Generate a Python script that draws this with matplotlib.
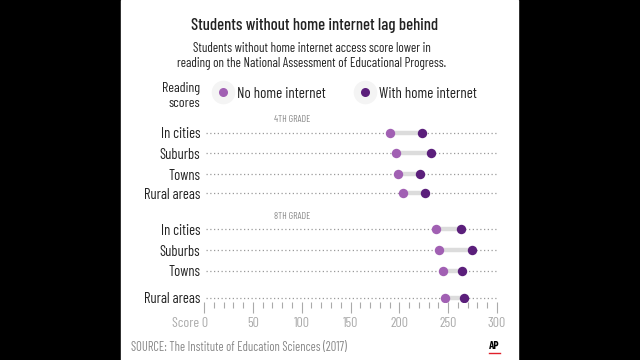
import matplotlib
matplotlib.use('Agg')
import matplotlib.pyplot as plt
from matplotlib import font_manager
from matplotlib.patches import Rectangle
from matplotlib.lines import Line2D
from matplotlib.transforms import ScaledTranslation

# pick a narrow face (AP graphics use a condensed sans)
names = set(f.name for f in font_manager.fontManager.ttflist)
wanted = ['Barlow Condensed', 'Roboto Condensed', 'Archivo Narrow',
          'Asap Condensed', 'Liberation Sans Narrow']
family = [n for n in wanted if n in names][:1] + ['Liberation Sans', 'DejaVu Sans']
plt.rcParams['font.family'] = family

# data
areas = ['In cities', 'Suburbs', 'Towns', 'Rural areas']
grade4_no = [190, 197, 199, 204]
grade4_with = [223, 232, 221, 226]
grade8_no = [238, 241, 245, 247]
grade8_with = [263, 274, 264, 266]

# layout (pixel rows)
rows4 = [132.7, 153.3, 174, 193.3]
rows8 = [229.3, 250, 271, 297.7]

c_no = '#a160b3'
c_with = '#5b1f7b'
W, H = 640, 360

def fx(x):
    return x / W

def fy(y):
    return 1 - y / H

fig = plt.figure(figsize=(6.4, 3.6), dpi=100, facecolor='black')
fig.patches.append(Rectangle((fx(121), 0), fx(518) - fx(121), 1,
                             transform=fig.transFigure, color='white', zorder=-5))

fig.text(fx(315), fy(24), 'Students without home internet lag behind',
         ha='center', va='center_baseline', fontsize=12, fontweight=500, color='#222222')
fig.text(fx(312), fy(47), 'Students without home internet access score lower in',
         ha='center', va='center_baseline', fontsize=9.4, color='#222222')
fig.text(fx(312), fy(62), 'reading on the National Assessment of Educational Progress.',
         ha='center', va='center_baseline', fontsize=9.4, color='#222222')

# legend
fig.text(fx(200), fy(87), 'Reading', ha='right', va='center_baseline', fontsize=10, color='#222222')
fig.text(fx(200), fy(102), 'scores', ha='right', va='center_baseline', fontsize=10, color='#222222')
for xm, col, lab in [(223, c_no, 'No home internet'), (365, c_with, 'With home internet')]:
    fig.add_artist(Line2D([fx(xm)], [fy(92)], marker='o', markersize=17,
                          color='#f4f4f4', markeredgewidth=0, transform=fig.transFigure))
    fig.add_artist(Line2D([fx(xm)], [fy(92)], marker='o', markersize=6.5,
                          color=col, markeredgewidth=0, transform=fig.transFigure))
    fig.text(fx(xm + 14), fy(92), lab, ha='left', va='center_baseline', fontsize=10.8, color='#222222')

ax = fig.add_axes([fx(204), fy(302), fx(497) - fx(204), fy(110) - fy(302)])
ax.set_zorder(2)
ax.patch.set_visible(False)
ax.set_xlim(0, 300)
ax.set_ylim(302, 110)
for s in ax.spines.values():
    s.set_visible(False)

for rows, no, wi in [(rows4, grade4_no, grade4_with), (rows8, grade8_no, grade8_with)]:
    for y, a, b, lab in zip(rows, no, wi, areas):
        ax.plot([2, 300], [y, y], color='#9a9a9a', lw=0.9, ls=(0, (1, 2)), zorder=1)
        ax.plot([a, b], [y, y], color='#dcdcdc', lw=3.2, solid_capstyle='butt', zorder=2)
        ax.scatter([a], [y], s=46, color=c_no, zorder=3, linewidths=0)
        ax.scatter([b], [y], s=46, color=c_with, zorder=3, linewidths=0)
        ax.text(-4, y, lab, ha='right', va='center_baseline', fontsize=10.5, color='#222222')

ax.text(90, 118, '4TH GRADE', ha='center', va='center_baseline', fontsize=7, color='#888888')
ax.text(90, 215.7, '8TH GRADE', ha='center', va='center_baseline', fontsize=7, color='#888888')

ax.set_yticks([])
ax.set_xticks(range(0, 301, 50))
ax.set_xticks(range(0, 301, 10), minor=True)
ax.set_xticklabels(['Score 0', '50', '100', '150', '200', '250', '300'])
ax.tick_params(axis='x', which='major', length=8, width=0.8, color='#aaaaaa',
               labelcolor='#aaaaaa', labelsize=10, pad=3)
ax.tick_params(axis='x', which='minor', length=4.3, width=0.8, color='#aaaaaa')
lbl = ax.get_xticklabels()[0]
lbl.set_ha('right')
lbl.set_transform(lbl.get_transform() + ScaledTranslation(3 / 72, 0, fig.dpi_scale_trans))

fig.text(fx(131), fy(346), 'SOURCE: The Institute of Education Sciences (2017)',
         ha='left', va='center_baseline', fontsize=9, color='#888888')
fig.text(fx(494), fy(345), 'AP', ha='center', va='center_baseline', fontsize=8,
         fontweight='bold', color='black')
fig.add_artist(Line2D([fx(489), fx(500)], [fy(353), fy(353)], color='#e0202a', lw=1,
                      transform=fig.transFigure))

fig.savefig('out.png', dpi=100, facecolor='black')
